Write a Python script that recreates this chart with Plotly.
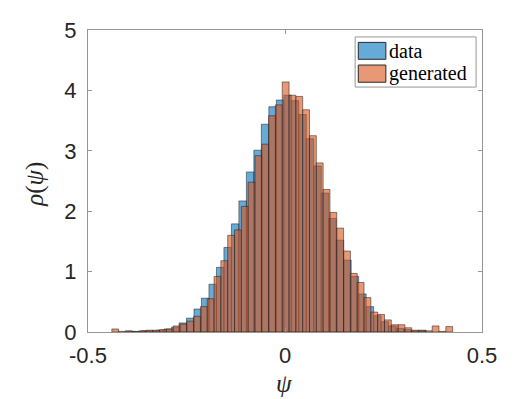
import plotly.graph_objects as go

# bin centres / pdf values
data_x = [-0.3925, -0.3735, -0.3545, -0.3355, -0.3165, -0.2975, -0.2785, -0.2595,
          -0.2405, -0.2215, -0.2025, -0.1835, -0.1645, -0.1455, -0.1265, -0.1075,
          -0.0885, -0.0695, -0.0505, -0.0315, -0.0125, 0.0065, 0.0255, 0.0445,
          0.0635, 0.0825, 0.1015, 0.1205, 0.1395, 0.1585, 0.1775, 0.1965,
          0.2155, 0.2345, 0.2535, 0.2725, 0.2915, 0.3105, 0.3295, 0.3485]
data_pdf = [0.01, 0.01, 0.02, 0.02, 0.03, 0.05, 0.08, 0.15,
            0.23, 0.38, 0.56, 0.79, 1.07, 1.40, 1.79, 2.17,
            2.65, 3.01, 3.44, 3.73, 3.84, 3.92, 3.83, 3.60,
            3.20, 2.75, 2.30, 1.88, 1.52, 1.19, 0.92, 0.63,
            0.42, 0.27, 0.17, 0.10, 0.06, 0.04, 0.02, 0.03]
data_binw = 0.019

gen_x = [-0.43085, -0.41355, -0.39625, -0.37895, -0.36165, -0.34435, -0.32705,
         -0.30975, -0.29245, -0.27515, -0.25785, -0.24055, -0.22325, -0.20595,
         -0.18865, -0.17135, -0.15405, -0.13675, -0.11945, -0.10215, -0.08485,
         -0.06755, -0.05025, -0.03295, -0.01565, 0.00165, 0.01895, 0.03625,
         0.05355, 0.07085, 0.08815, 0.10545, 0.12275, 0.14005, 0.15735,
         0.17465, 0.19195, 0.20925, 0.22655, 0.24385, 0.26115, 0.27845,
         0.29575, 0.31305, 0.33035, 0.34765, 0.36495, 0.38225, 0.39955, 0.41685]
gen_pdf = [0.05, 0.01, 0.02, 0.0, 0.02, 0.03, 0.03,
           0.04, 0.05, 0.10, 0.13, 0.18, 0.26, 0.42,
           0.55, 0.92, 1.18, 1.60, 1.69, 2.08, 2.48,
           2.92, 3.11, 3.58, 3.76, 4.14, 3.92, 3.90,
           3.68, 3.25, 2.80, 2.36, 1.98, 1.72, 1.34,
           0.97, 0.82, 0.57, 0.33, 0.29, 0.20, 0.12,
           0.12, 0.07, 0.03, 0.02, 0.02, 0.10, 0.01, 0.09]
gen_binw = 0.0173

x_ticks = [-0.5, 0, 0.5]
x_ticklabels = ["-0.5", "0", "0.5"]
y_ticks = [0, 1, 2, 3, 4, 5]

blue = "rgba(0,114,189,0.6)"
orange = "rgba(217,83,25,0.6)"
edge = dict(color="rgba(30,30,30,0.75)", width=0.7)

fig = go.Figure()
fig.add_trace(go.Bar(name="data", x=data_x, y=data_pdf, width=data_binw,
                     marker=dict(color=blue, line=edge), showlegend=False))
fig.add_trace(go.Bar(name="generated", x=gen_x, y=gen_pdf, width=gen_binw,
                     marker=dict(color=orange, line=edge), showlegend=False))

axcol = "rgb(150,150,150)"
txtcol = "rgb(38,38,38)"
tickfont = dict(family="Liberation Sans, Arial", size=22, color=txtcol)
serif = "Liberation Serif, DejaVu Serif, serif"
common = dict(ticks="inside", ticklen=4, tickcolor=axcol, showline=True,
              linecolor=axcol, linewidth=1, mirror="ticks", showgrid=False,
              zeroline=False, tickfont=tickfont, automargin=False)
# page body adds an 8px offset, so the figure is 8px smaller than the window
fig.update_layout(
    width=524, height=391,
    margin=dict(l=80, r=50, t=22, b=67),
    paper_bgcolor="white", plot_bgcolor="white",
    barmode="overlay",
    xaxis=dict(range=[-0.5, 0.5], tickvals=x_ticks, ticktext=x_ticklabels,
               ticklabelstandoff=4, **common),
    yaxis=dict(range=[0, 5], tickvals=y_ticks, ticklabelstandoff=6, **common),
)

# axis labels
fig.add_annotation(x=-0.135, y=0.49, xref="paper", yref="paper", text="<i>ρ</i>(<i>ψ</i>)",
                   textangle=-90, showarrow=False, xanchor="center", yanchor="middle",
                   font=dict(family=serif, size=25, color=txtcol))
fig.add_annotation(x=0.498, y=-0.17, xref="paper", yref="paper", text="<i>ψ</i>",
                   showarrow=False, xanchor="center", yanchor="middle",
                   font=dict(family=serif, size=25, color=txtcol))

# MATLAB-style legend box
legfont = dict(family=serif, size=20, color="black")
fig.add_shape(type="rect", xref="paper", yref="paper", x0=0.678, x1=0.985, y0=0.811, y1=0.977,
              line=dict(color=axcol, width=1), fillcolor="white", layer="above")
fig.add_shape(type="rect", xref="paper", yref="paper", x0=0.686, x1=0.756, y0=0.903, y1=0.959,
              line=dict(color="rgb(40,40,40)", width=1), fillcolor=blue, layer="above")
fig.add_shape(type="rect", xref="paper", yref="paper", x0=0.686, x1=0.756, y0=0.827, y1=0.884,
              line=dict(color="rgb(40,40,40)", width=1), fillcolor=orange, layer="above")
fig.add_annotation(x=0.760, y=0.931, xref="paper", yref="paper", text="data",
                   showarrow=False, xanchor="left", yanchor="middle", font=legfont)
fig.add_annotation(x=0.760, y=0.856, xref="paper", yref="paper", text="generated",
                   showarrow=False, xanchor="left", yanchor="middle", font=legfont)

fig.write_html("out.html")
